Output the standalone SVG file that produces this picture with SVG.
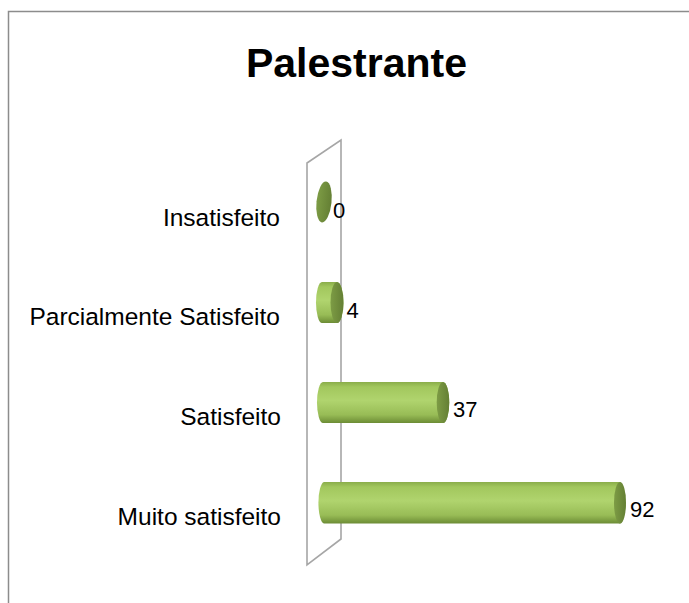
<svg xmlns="http://www.w3.org/2000/svg" width="689" height="603" viewBox="0 0 689 603">
<defs>
<linearGradient id="body" x1="0" y1="0" x2="0" y2="1">
<stop offset="0" stop-color="#8aad4a"/>
<stop offset="0.12" stop-color="#a2c75d"/>
<stop offset="0.45" stop-color="#b0d46e"/>
<stop offset="0.8" stop-color="#98bc56"/>
<stop offset="1" stop-color="#6c8c35"/>
</linearGradient>
<linearGradient id="cap" x1="0" y1="0" x2="1" y2="0">
<stop offset="0" stop-color="#7d9c45"/>
<stop offset="1" stop-color="#647f34"/>
</linearGradient>
<style>
.frame{fill:#fff;stroke:#8c8c8c;stroke-width:1.5}
.wall{fill:#fff;stroke:#a6a6a6;stroke-width:1.6}
.title{font-family:"Liberation Sans",Arial,sans-serif;font-weight:bold;font-size:41px;fill:#000;text-anchor:middle}
.cat{font-family:"Liberation Sans",Arial,sans-serif;font-size:24.5px;fill:#000;text-anchor:end}
.val{font-family:"Liberation Sans",Arial,sans-serif;font-size:22px;fill:#000}
.body{fill:url(#body)}
.cap{fill:url(#cap)}
</style>
</defs>
<rect width="689" height="603" fill="#fff"/>
<rect class="frame" x="8.5" y="11.5" width="720" height="640"/>
<text class="title" x="356.5" y="77">Palestrante</text>
<g id="wall">
<polygon class="wall" points="307,163 341,140 341,539 307,565"/>
</g>
<g id="axis-labels">
<text class="cat" x="280" y="226">Insatisfeito</text>
<text class="cat" x="280" y="325">Parcialmente Satisfeito</text>
<text class="cat" x="281" y="425">Satisfeito</text>
<text class="cat" x="281" y="525">Muito satisfeito</text>
</g>
<g id="bar-insatisfeito">
<ellipse class="cap" cx="324" cy="202" rx="7.5" ry="20.5" transform="rotate(6 324 202)"/>
<text class="val" x="333" y="218">0</text>
</g>
<g id="bar-parcialmente">
<path class="body" d="M322,282 H337 A6.5,20.5 0 0 1 337,323 H322 A6,20.5 0 0 1 322,282 Z"/>
<ellipse class="cap" cx="337" cy="302.5" rx="6.5" ry="20.5"/>
<text class="val" x="346.5" y="318">4</text>
</g>
<g id="bar-satisfeito">
<path class="body" d="M323,382 H443 A6.3,20.5 0 0 1 443,423 H323 A6,20.5 0 0 1 323,382 Z"/>
<ellipse class="cap" cx="443" cy="402.5" rx="6.3" ry="20.5"/>
<text class="val" x="453" y="417">37</text>
</g>
<g id="bar-muito">
<path class="body" d="M324,482 H620 A6,20.8 0 0 1 620,523.5 H324 A6,20.8 0 0 1 324,482 Z"/>
<ellipse class="cap" cx="620" cy="502.8" rx="6" ry="20.8"/>
<text class="val" x="630" y="517">92</text>
</g>
<g id="connectors"></g>
</svg>
